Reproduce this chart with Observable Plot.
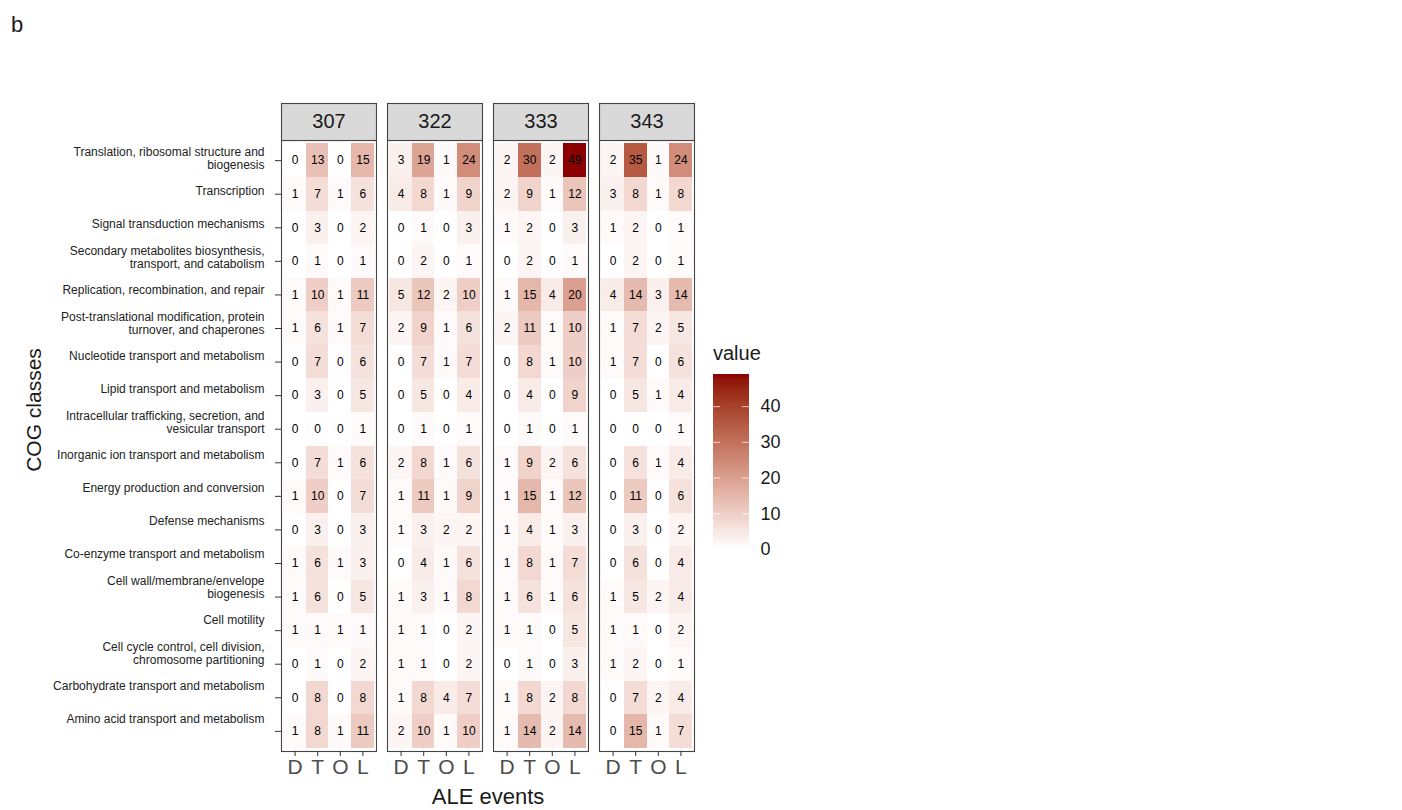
<!DOCTYPE html>
<html>
<head>
<meta charset="utf-8">
<script src="https://cdn.jsdelivr.net/npm/d3@7"></script>
<script src="https://cdn.jsdelivr.net/npm/@observablehq/plot@0.6"></script>
<style>
  body { margin: 0; background: #fff; font-family: "Liberation Sans", Arial, Helvetica, sans-serif; }
  #wrap { position: relative; width: 1402px; height: 810px; overflow: hidden; }
  .lbl { position: absolute; color: #1a1a1a; white-space: nowrap; line-height: 1; }
</style>
</head>
<body>
<div id="wrap">
  <div class="lbl" style="left:11px; top:14px; font-size:22px;">b</div>
  <div class="lbl" style="left:488px; top:786px; font-size:22px; transform:translateX(-50%);">ALE events</div>
  <div class="lbl" style="left:33px; top:410px; font-size:21px; transform:translate(-50%,-50%) rotate(-90deg);">COG classes</div>
  <div class="lbl" style="left:713px; top:343px; font-size:20px;">value</div>
  <div id="main" style="position:absolute; left:0; top:0;"></div>
  <div id="ylabels" style="position:absolute; left:0; top:0;"></div>
  <div id="legend" style="position:absolute; left:713px; top:364px;"></div>
</div>
<script>
// ---- data ----
const cogClasses = [
  "Translation, ribosomal structure and\nbiogenesis",
  "Transcription",
  "Signal transduction mechanisms",
  "Secondary metabolites biosynthesis,\ntransport, and catabolism",
  "Replication, recombination, and repair",
  "Post-translational modification, protein\nturnover, and chaperones",
  "Nucleotide transport and metabolism",
  "Lipid transport and metabolism",
  "Intracellular trafficking, secretion, and\nvesicular transport",
  "Inorganic ion transport and metabolism",
  "Energy production and conversion",
  "Defense mechanisms",
  "Co-enzyme transport and metabolism",
  "Cell wall/membrane/envelope\nbiogenesis",
  "Cell motility",
  "Cell cycle control, cell division,\nchromosome partitioning",
  "Carbohydrate transport and metabolism",
  "Amino acid transport and metabolism"
];
const aleEvents = ["307", "322", "333", "343"];
const eventTypes = ["D", "T", "O", "L"];
// rows follow cogClasses; columns follow eventTypes (D, T, O, L)
const v307 = [[0,13,0,15],[1,7,1,6],[0,3,0,2],[0,1,0,1],[1,10,1,11],[1,6,1,7],[0,7,0,6],[0,3,0,5],[0,0,0,1],[0,7,1,6],[1,10,0,7],[0,3,0,3],[1,6,1,3],[1,6,0,5],[1,1,1,1],[0,1,0,2],[0,8,0,8],[1,8,1,11]];
const v322 = [[3,19,1,24],[4,8,1,9],[0,1,0,3],[0,2,0,1],[5,12,2,10],[2,9,1,6],[0,7,1,7],[0,5,0,4],[0,1,0,1],[2,8,1,6],[1,11,1,9],[1,3,2,2],[0,4,1,6],[1,3,1,8],[1,1,0,2],[1,1,0,2],[1,8,4,7],[2,10,1,10]];
const v333 = [[2,30,2,49],[2,9,1,12],[1,2,0,3],[0,2,0,1],[1,15,4,20],[2,11,1,10],[0,8,1,10],[0,4,0,9],[0,1,0,1],[1,9,2,6],[1,15,1,12],[1,4,1,3],[1,8,1,7],[1,6,1,6],[1,1,0,5],[0,1,0,3],[1,8,2,8],[1,14,2,14]];
const v343 = [[2,35,1,24],[3,8,1,8],[1,2,0,1],[0,2,0,1],[4,14,3,14],[1,7,2,5],[1,7,0,6],[0,5,1,4],[0,0,0,1],[0,6,1,4],[0,11,0,6],[0,3,0,2],[0,6,0,4],[1,5,2,4],[1,1,0,2],[1,2,0,1],[0,7,2,4],[0,15,1,7]];
const legendTicks = [0, 10, 20, 30, 40];
const valueMax = 49;

// ---- build table ----
const byAle = {"307": v307, "322": v322, "333": v333, "343": v343};
const table = [];
for (const ale of aleEvents) {
  byAle[ale].forEach((row, i) => {
    row.forEach((v, j) => table.push({ale, cog: cogClasses[i], event: eventTypes[j], value: v}));
  });
}

const font = '"Liberation Sans", Arial, Helvetica, sans-serif';
const colorOpts = {type: "linear", domain: [0, valueMax], range: ["white", "darkred"], interpolate: "lab"};

const main = Plot.plot({
  width: 700,
  height: 810,
  marginLeft: 281,
  marginRight: 6,
  marginTop: 140,
  marginBottom: 59,
  style: {fontFamily: font, fontSize: "12px", background: "transparent"},
  fx: {domain: aleEvents, paddingInner: 0.104, paddingOuter: 0, round: false, axis: null, label: null},
  x: {domain: eventTypes, paddingInner: 0, paddingOuter: 0.1, round: false, label: null},
  y: {domain: cogClasses, paddingInner: 0, paddingOuter: 0.1, round: false, label: null},
  color: colorOpts,
  marks: [
    Plot.frame({fill: "white"}),
    Plot.gridX({stroke: "#ebebeb", strokeOpacity: 1, strokeWidth: 0.6}),
    Plot.gridY({stroke: "#ebebeb", strokeOpacity: 1, strokeWidth: 0.6}),
    Plot.cell(table, {x: "event", y: "cog", fx: "ale", fill: "value", inset: 0, shapeRendering: "crispEdges"}),
    Plot.text(table, {x: "event", y: "cog", fx: "ale", text: "value", fill: "#000", fontSize: 12}),
    Plot.frame({stroke: "#444", strokeWidth: 1.1}),
    Plot.frame({fill: "#d9d9d9", stroke: "#444", strokeWidth: 1.1, insetTop: -37, insetBottom: 611}),
    Plot.text(aleEvents, {fx: d => d, text: d => d, frameAnchor: "top", lineAnchor: "middle", dy: -18.5, fontSize: 20, fill: "#1a1a1a"}),
    Plot.axisX({anchor: "bottom", tickSize: 5, tickPadding: 3, fontSize: 21, fill: "#4d4d4d", stroke: "#333", label: null}),
    Plot.axisY({anchor: "left", tickSize: 6, tickPadding: 0, tickFormat: () => "", stroke: "#333", label: null})
  ]
});
document.getElementById("main").appendChild(main);

// ---- y tick labels (ggplot spaces them slightly tighter than the rows) ----
const ylab = Plot.plot({
  width: 282,
  height: 810,
  marginLeft: 281,
  marginRight: 1,
  marginTop: 141.5,
  marginBottom: 74.5,
  style: {fontFamily: font, background: "transparent"},
  y: {type: "band", domain: cogClasses, padding: 0, round: false, label: null},
  marks: [
    Plot.axisY({anchor: "left", tickSize: 0, tickPadding: 17, fontSize: 12, lineHeight: 1.03, fill: "#222", label: null})
  ]
});
document.getElementById("ylabels").appendChild(ylab);

// ---- legend colour bar ----
const steps = d3.range(0, valueMax, 0.25);
const legend = Plot.plot({
  width: 90,
  height: 195,
  marginLeft: 0,
  marginRight: 54,
  marginTop: 10,
  marginBottom: 10,
  style: {fontFamily: font, background: "transparent"},
  x: {domain: [0, 1], axis: null},
  y: {domain: [0, valueMax]},
  color: colorOpts,
  marks: [
    Plot.rect(steps, {x1: 0, x2: 1, y1: d => d, y2: d => Math.min(d + 0.5, valueMax), fill: d => d + 0.125, shapeRendering: "crispEdges"}),
    Plot.ruleY(legendTicks.filter(t => t > 0), {x1: 0, x2: 0.2, stroke: "white", strokeOpacity: 0.7}),
    Plot.ruleY(legendTicks.filter(t => t > 0), {x1: 0.8, x2: 1, stroke: "white", strokeOpacity: 0.7}),
    Plot.axisY(legendTicks, {anchor: "right", tickSize: 0, tickPadding: 11, fontSize: 18, fill: "#1a1a1a", label: null})
  ]
});
document.getElementById("legend").appendChild(legend);
</script>
</body>
</html>
